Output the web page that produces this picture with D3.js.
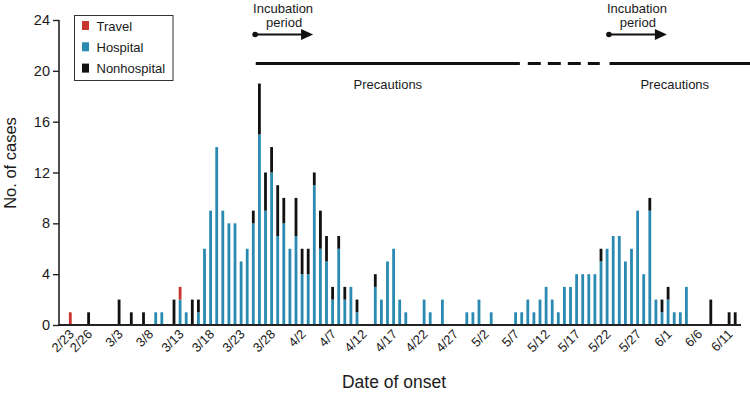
<!DOCTYPE html>
<html><head><meta charset="utf-8">
<script src="https://cdn.jsdelivr.net/npm/d3@7"></script>
<style>
body{margin:0;background:#fff}
svg{display:block}
text{font-family:"Liberation Sans",Arial,Helvetica,sans-serif;fill:#1a1a1a}
</style>
</head><body><svg id="c" width="750" height="394"></svg>
<script>
// ---- data ----
const onsetDates = ["2/23","2/26","3/3","3/5","3/7","3/9","3/10","3/12",
 "3/13","3/14","3/15","3/16","3/17","3/18","3/19","3/20","3/21","3/22","3/23","3/24","3/25","3/26","3/27","3/28","3/29","3/30","3/31",
 "4/1","4/2","4/3","4/4","4/5","4/6","4/7","4/8","4/9","4/10","4/11",
 "4/14","4/15","4/16","4/17","4/18","4/19",
 "4/22","4/23","4/25",
 "4/29","4/30","5/1","5/3",
 "5/7","5/8","5/9","5/10","5/11","5/12","5/13","5/14","5/15","5/16","5/17","5/18","5/19","5/20","5/21","5/22","5/23","5/24","5/25","5/26","5/27","5/28","5/29","5/30","5/31",
 "6/1","6/2","6/3","6/4",
 "6/8","6/11","6/12"];
const hospital = [0,0,0,0,0,1,1,0,
 2,1,0,1,6,9,14,9,8,8,5,6,8,15,9,12,7,8,6,
 7,4,4,11,6,5,2,6,2,3,1,
 3,2,5,6,2,1,
 2,1,2,
 1,1,2,1,
 1,1,2,1,2,3,2,1,3,3,4,4,4,4,5,6,7,7,5,6,9,4,9,2,1,
 2,1,1,3,
 0,0,0];
const nonhospital = [0,1,2,1,1,0,0,2,
 0,0,2,1,0,0,0,0,0,0,0,0,1,4,3,2,4,2,0,
 3,2,2,1,3,2,1,1,1,0,1,
 1,0,0,0,0,0,
 0,0,0,
 0,0,0,0,
 0,0,0,0,0,0,0,0,0,0,0,0,0,0,1,0,0,0,0,0,0,0,1,0,1,
 1,0,0,0,
 2,1,1];
const travel = [1,0,0,0,0,0,0,0,
 1,0,0,0,0,0,0,0,0,0,0,0,0,0,0,0,0,0,0,
 0,0,0,0,0,0,0,0,0,0,0,
 0,0,0,0,0,0,
 0,0,0,
 0,0,0,0,
 0,0,0,0,0,0,0,0,0,0,0,0,0,0,0,0,0,0,0,0,0,0,0,0,0,
 0,0,0,0,
 0,0,0];
const tickLabels = ["2/23","2/26","3/3","3/8","3/13","3/18","3/23","3/28","4/2","4/7","4/12","4/17","4/22","4/27","5/2","5/7","5/12","5/17","5/22","5/27","6/1","6/6","6/11"];
const yTicks = [0,4,8,12,16,20,24];
const seriesNames = ["Travel","Hospital","Nonhospital"];
const seriesColors = {Travel:"#c9342e", Hospital:"#2b8ab2", Nonhospital:"#111111"};
const incubationStarts = ["3/25","5/22"];

// ---- helpers ----
const parse = s => { const [m,d] = s.split("/").map(Number); return new Date(Date.UTC(2003, m-1, d)); };
const addDays = (dt, n) => new Date(dt.getTime() + n*86400000);

const svg = d3.select("#c");
const x = d3.scaleUtc().domain([parse("2/21"), parse("6/13")]).range([58.1, 741.3]);
const y = d3.scaleLinear().domain([0,24]).range([325,20]);

const rows = onsetDates.map((d,i)=>({date:parse(d), Hospital:hospital[i], Nonhospital:nonhospital[i], Travel:travel[i]}));
const stack = d3.stack().keys(["Hospital","Nonhospital","Travel"])(rows);
const bw = 2.8;

svg.append("g").selectAll("g").data(stack).join("g")
  .attr("fill", s => seriesColors[s.key])
  .selectAll("rect").data(s => s.filter(p => p[1] > p[0])).join("rect")
  .attr("x", p => x(p.data.date) - bw/2)
  .attr("width", bw)
  .attr("y", p => y(p[1]))
  .attr("height", p => y(p[0]) - y(p[1]));

// y axis
const ya = svg.append("g").attr("transform","translate(59,0)")
  .call(d3.axisLeft(y).tickValues(yTicks).tickSize(6).tickPadding(3));
ya.select(".domain").attr("stroke","#222").attr("stroke-width",1.6).attr("d","M0,20V325");
ya.selectAll(".tick line").attr("stroke","#222").attr("stroke-width",1.4);
ya.selectAll(".tick text").attr("font-size",14.5).attr("font-family","Liberation Sans, Arial, sans-serif").attr("fill","#1a1a1a");

// x axis
const xa = svg.append("g").attr("transform","translate(0,325)")
  .call(d3.axisBottom(x).tickValues(tickLabels.map(parse)).tickSize(0).tickFormat(d3.utcFormat("%-m/%-d")));
xa.select(".domain").attr("stroke","#222").attr("stroke-width",1.8).attr("d","M58.3,0H741");
xa.selectAll(".tick text")
  .attr("font-size",13).attr("font-family","Liberation Sans, Arial, sans-serif").attr("fill","#1a1a1a")
  .attr("text-anchor","end").attr("dy",null).attr("y",0)
  .attr("transform","translate(4,10) rotate(-45)");

// axis titles
svg.append("text").attr("transform","translate(16,163) rotate(-90)")
  .attr("text-anchor","middle").attr("font-size",16.5).text("No. of cases");
svg.append("text").attr("x",394).attr("y",388)
  .attr("text-anchor","middle").attr("font-size",17.5).text("Date of onset");

// legend
const lg = svg.append("g");
lg.append("rect").attr("x",74.5).attr("y",15.5).attr("width",98.5).attr("height",65)
  .attr("fill","#fff").attr("stroke","#333").attr("stroke-width",1);
seriesNames.forEach((n,i)=>{
  const yy = 21 + i*21.3;
  lg.append("rect").attr("x",82).attr("y",yy).attr("width",7).attr("height",9).attr("fill",seriesColors[n]);
  lg.append("text").attr("x",96.5).attr("y",yy+9.8).attr("font-size",13).text(n);
});

// precautions lines
const ann = svg.append("g");
const p1a = x(addDays(parse("3/25"),0.4)), p1b = x(addDays(parse("5/7"),0.7));
const p2a = x(addDays(parse("5/22"),0.4));
ann.append("line").attr("x1",p1a).attr("x2",p1b).attr("y1",63.5).attr("y2",63.5).attr("stroke","#111").attr("stroke-width",3);
ann.append("line").attr("x1",x(addDays(parse("5/7"),2))).attr("x2",x(addDays(parse("5/20"),0.8))).attr("y1",63.5).attr("y2",63.5)
  .attr("stroke","#111").attr("stroke-width",3).attr("stroke-dasharray","13,7");
ann.append("line").attr("x1",p2a).attr("x2",750).attr("y1",63.5).attr("y2",63.5).attr("stroke","#111").attr("stroke-width",3);
ann.append("text").attr("x",(p1a+p1b)/2).attr("y",89).attr("text-anchor","middle").attr("font-size",13).text("Precautions");
ann.append("text").attr("x",(p2a+740)/2).attr("y",89).attr("text-anchor","middle").attr("font-size",13).text("Precautions");

// incubation arrows
incubationStarts.forEach(s=>{
  const a = x(addDays(parse(s),0.3)), b = x(addDays(parse(s),9.8));
  const yy = 34.5;
  ann.append("circle").attr("cx",a).attr("cy",yy).attr("r",2.8).attr("fill","#111");
  ann.append("line").attr("x1",a).attr("x2",b-10).attr("y1",yy).attr("y2",yy).attr("stroke","#111").attr("stroke-width",2.2);
  ann.append("path").attr("d",`M${b},${yy}L${b-12},${yy-5.5}L${b-12},${yy+5.5}Z`).attr("fill","#111");
  const cx = (a+b)/2 - 1;
  ann.append("text").attr("x",cx).attr("y",13).attr("text-anchor","middle").attr("font-size",13).text("Incubation");
  ann.append("text").attr("x",cx+1).attr("y",27).attr("text-anchor","middle").attr("font-size",13).text("period");
});
</script>
</body></html>
